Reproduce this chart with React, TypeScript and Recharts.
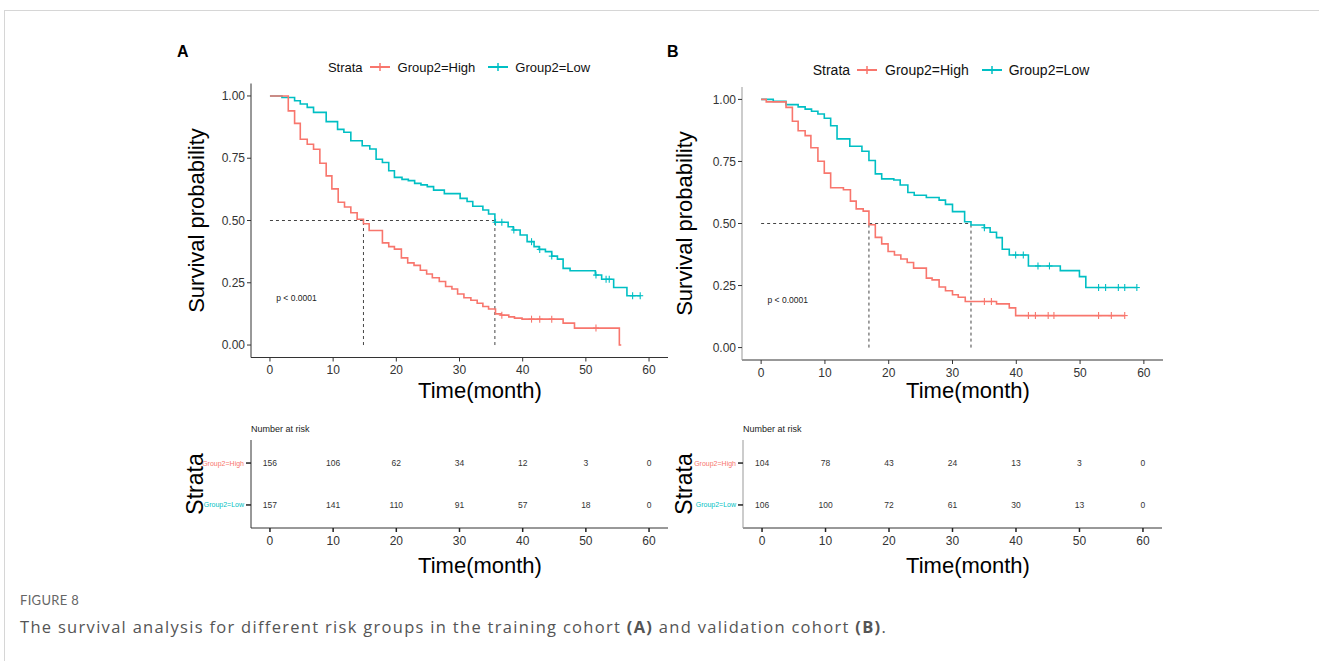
import React from "react";
import { ComposedChart, Line, Scatter, XAxis, YAxis, ReferenceLine } from "recharts";

const RED = "#F8766D";
const TEAL = "#00BFC4";
const FONT = "'Liberation Sans', Arial, sans-serif";

const months = [0, 10, 20, 30, 40, 50, 60];
const survTicks = [0, 0.25, 0.5, 0.75, 1];

// training cohort (A)
const highTimeA = [0, 2.9, 3.9, 4.8, 5.9, 6.9, 7.9, 8.9, 9.8, 10.8, 11.8, 12.8, 13.8, 14.8, 15.7, 17.8, 18.8, 19.7, 20.8, 21.8, 22.8, 23.8, 24.8, 25.7, 26.8, 27.8, 28.8, 29.7, 30.7, 31.8, 32.8, 33.7, 34.6, 35.7, 36.6, 37.8, 38.7, 39.9, 46.4, 48.2, 55.3, 55.6];
const highSurvA = [1, 0.94, 0.89, 0.826, 0.806, 0.786, 0.73, 0.679, 0.627, 0.573, 0.554, 0.531, 0.505, 0.487, 0.46, 0.41, 0.395, 0.385, 0.35, 0.33, 0.32, 0.3, 0.285, 0.27, 0.255, 0.235, 0.225, 0.205, 0.19, 0.18, 0.168, 0.155, 0.145, 0.125, 0.12, 0.113, 0.108, 0.104, 0.088, 0.068, 0, 0];
const lowTimeA = [0, 1.9, 3.9, 4.8, 5.9, 6.9, 8.9, 10.7, 11.7, 12.8, 14.6, 15.8, 16.8, 17.8, 18.8, 19.7, 20.9, 21.9, 22.9, 23.9, 24.9, 25.9, 27.6, 30.1, 31.2, 32.1, 33.7, 34.6, 35.6, 37.7, 38.5, 39.6, 40.7, 41.8, 42.6, 43.6, 44.6, 45.5, 46.4, 47.5, 51.5, 52.5, 54.4, 56.5, 58.6];
const lowSurvA = [1, 0.994, 0.981, 0.968, 0.954, 0.934, 0.897, 0.866, 0.854, 0.82, 0.8, 0.787, 0.746, 0.733, 0.7, 0.673, 0.665, 0.66, 0.649, 0.643, 0.636, 0.622, 0.608, 0.589, 0.576, 0.557, 0.542, 0.526, 0.493, 0.475, 0.462, 0.442, 0.415, 0.395, 0.384, 0.375, 0.357, 0.345, 0.308, 0.298, 0.281, 0.264, 0.231, 0.198, 0.198];
const highCensorA = [36.7, 41.4, 42.7, 44.6, 51.6];
const lowCensorA = [35.7, 36.7, 38.6, 41.4, 42.7, 44.6, 51.6, 53.2, 53.7, 57.4, 58.6];
const medianA = [14.8, 35.6];
const riskHighA = [156, 106, 62, 34, 12, 3, 0];
const riskLowA = [157, 141, 110, 91, 57, 18, 0];

// validation cohort (B)
const highTimeB = [0, 0.8, 3.9, 4.9, 5.8, 6.9, 7.8, 8.9, 9.9, 10.9, 12.9, 14.0, 14.9, 16.0, 16.9, 17.9, 18.9, 19.9, 20.9, 21.9, 22.9, 23.9, 25.9, 26.8, 27.9, 28.9, 30.0, 30.9, 32.0, 36.9, 38.9, 39.9, 57];
const highSurvB = [1, 0.99, 0.968, 0.912, 0.874, 0.854, 0.805, 0.751, 0.703, 0.644, 0.636, 0.59, 0.559, 0.55, 0.495, 0.444, 0.418, 0.387, 0.373, 0.357, 0.343, 0.32, 0.28, 0.273, 0.244, 0.229, 0.213, 0.203, 0.186, 0.176, 0.16, 0.129, 0.129];
const lowTimeB = [0, 1.9, 3.9, 5.8, 6.9, 7.9, 8.9, 9.9, 10.9, 11.9, 13.9, 15.8, 16.9, 17.9, 18.9, 20.8, 21.8, 23.0, 24.0, 25.9, 27.9, 28.9, 30.0, 31.9, 32.9, 35.0, 35.9, 36.9, 37.8, 38.9, 41.9, 46.9, 49.9, 50.9, 58.9];
const lowSurvB = [1, 0.992, 0.979, 0.97, 0.961, 0.952, 0.941, 0.924, 0.894, 0.841, 0.811, 0.791, 0.754, 0.7, 0.68, 0.675, 0.655, 0.625, 0.614, 0.605, 0.594, 0.577, 0.548, 0.507, 0.494, 0.483, 0.465, 0.443, 0.396, 0.373, 0.329, 0.31, 0.286, 0.242, 0.242];
const highCensorB = [35, 36.1, 41.9, 43, 45, 45.9, 52.9, 54.9, 57];
const lowCensorB = [35, 39.9, 41.1, 43.4, 45.2, 52.9, 54, 56, 57, 58.9];
const medianB = [16.9, 32.9];
const riskHighB = [104, 78, 43, 24, 13, 3, 0];
const riskLowB = [106, 100, 72, 61, 30, 13, 0];

const toCurve = (t: number[], s: number[]) => t.map((time, i) => ({ time, surv: s[i] }));

const censorPts = (times: number[], t: number[], s: number[]) =>
  times.map((c) => {
    let v = s[0];
    t.forEach((x, i) => {
      if (x <= c) v = s[i];
    });
    return { time: c, surv: v };
  });

const crossShape = (color: string) => (props: any) => {
  const { cx, cy } = props;
  return (
    <g stroke={color} strokeWidth={1.1}>
      <line x1={cx - 3} x2={cx + 3} y1={cy} y2={cy} />
      <line x1={cx} x2={cx} y1={cy - 3.5} y2={cy + 3.5} />
    </g>
  );
};

const vLabel = (text: string, x: number, size: number) => (props: any) => {
  const { viewBox } = props;
  const cy = viewBox.y + viewBox.height / 2;
  return (
    <text x={x} y={cy} transform={`rotate(-90 ${x} ${cy})`} textAnchor="middle" dominantBaseline="central" fontSize={size} fill="#000">
      {text}
    </text>
  );
};

const hLabel = (text: string, x: number, y: number, size: number) => () => (
  <text x={x} y={y} textAnchor="middle" dominantBaseline="central" fontSize={size} fill="#000">
    {text}
  </text>
);

const LegendKey = ({ color }: { color: string }) => (
  <svg width={20} height={12} style={{ display: "block" }}>
    <line x1={0} x2={20} y1={6} y2={6} stroke={color} strokeWidth={2} />
    <line x1={10} x2={10} y1={2} y2={10} stroke={color} strokeWidth={1.5} />
  </svg>
);

const StrataLegend = ({ cx, cy, size }: { cx: number; cy: number; size: number }) => (
  <div
    style={{
      position: "absolute",
      left: cx - 200,
      top: cy - 10,
      width: 400,
      height: 20,
      display: "flex",
      justifyContent: "center",
      alignItems: "center",
      fontSize: size,
      color: "#111",
      whiteSpace: "nowrap",
    }}
  >
    <span style={{ marginRight: 7 }}>Strata</span>
    <LegendKey color={RED} />
    <span style={{ marginLeft: 8, marginRight: 13 }}>Group2=High</span>
    <LegendKey color={TEAL} />
    <span style={{ marginLeft: 7 }}>Group2=Low</span>
  </div>
);

interface PanelProps {
  left: number;
  plotLeft: number;
  plotRight: number;
  plotTop: number;
  plotBottom: number;
  highT: number[];
  highS: number[];
  lowT: number[];
  lowS: number[];
  highC: number[];
  lowC: number[];
  median: number[];
  yAxisColor: string;
  labelX: number;
}

const SurvivalPlot = (p: PanelProps) => {
  const top = 40;
  const width = 530;
  const height = 370;
  const axis = "#333";
  const pval = [{ time: 1, surv: 0.19 }];
  return (
    <div style={{ position: "absolute", left: p.left, top }}>
      <ComposedChart
        width={width}
        height={height}
        margin={{ top: p.plotTop - top, right: p.left + width - p.plotRight, bottom: 0, left: 0 }}
      >
        <XAxis
          type="number"
          dataKey="time"
          domain={[-3, 63]}
          ticks={months}
          height={top + height - p.plotBottom}
          tickSize={4}
          tickMargin={4}
          axisLine={{ stroke: axis }}
          tickLine={{ stroke: axis }}
          tick={{ fontSize: 12, fill: "#333" }}
          label={hLabel("Time(month)", p.labelX - p.left, 350, 22)}
        />
        <YAxis
          type="number"
          dataKey="surv"
          domain={[-0.05, 1.05]}
          ticks={survTicks}
          tickFormatter={(v: number) => v.toFixed(2)}
          width={p.plotLeft - p.left}
          tickSize={4}
          tickMargin={2}
          axisLine={{ stroke: p.yAxisColor }}
          tickLine={{ stroke: axis }}
          tick={{ fontSize: 12, fill: "#333" }}
          label={vLabel("Survival probability", p.left === 160 ? 36 : 32, 22)}
        />
        <ReferenceLine segment={[{ x: 0, y: 0.5 }, { x: p.median[1], y: 0.5 }]} stroke="#444" strokeDasharray="3 3" />
        <ReferenceLine segment={[{ x: p.median[0], y: 0 }, { x: p.median[0], y: 0.5 }]} stroke="#444" strokeDasharray="3 3" />
        <ReferenceLine segment={[{ x: p.median[1], y: 0 }, { x: p.median[1], y: 0.5 }]} stroke="#444" strokeDasharray="3 3" />
        <Line
          data={toCurve(p.lowT, p.lowS)}
          dataKey="surv"
          type="stepAfter"
          stroke={TEAL}
          strokeWidth={1.6}
          dot={false}
          isAnimationActive={false}
        />
        <Line
          data={toCurve(p.highT, p.highS)}
          dataKey="surv"
          type="stepAfter"
          stroke={RED}
          strokeWidth={1.6}
          dot={false}
          isAnimationActive={false}
        />
        <Scatter data={censorPts(p.lowC, p.lowT, p.lowS)} dataKey="surv" shape={crossShape(TEAL)} isAnimationActive={false} />
        <Scatter data={censorPts(p.highC, p.highT, p.highS)} dataKey="surv" shape={crossShape(RED)} isAnimationActive={false} />
        <Scatter
          data={pval}
          dataKey="surv"
          isAnimationActive={false}
          shape={(s: any) => (
            <text x={s.cx} y={s.cy} dominantBaseline="central" fontSize={8.5} fill="#222">
              p &lt; 0.0001
            </text>
          )}
        />
      </ComposedChart>
    </div>
  );
};

interface RiskProps {
  left: number;
  plotLeft: number;
  plotRight: number;
  high: number[];
  low: number[];
  yAxisColor: string;
  labelX: number;
}

const StrataTick = (props: any) => {
  const { x, y, payload } = props;
  const high = payload.value === 2;
  return (
    <text x={x} y={y} textAnchor="end" dominantBaseline="central" fontSize={7} fill={high ? RED : TEAL}>
      {high ? "Group2=High" : "Group2=Low"}
    </text>
  );
};

const riskText = (props: any) => (
  <text x={props.cx} y={props.cy} textAnchor="middle" dominantBaseline="central" fontSize={8.5} fill="#333">
    {props.payload.n}
  </text>
);

const RiskTable = (p: RiskProps) => {
  const top = 420;
  const width = 530;
  const height = 165;
  const rows = [
    ...months.map((m, i) => ({ time: m, row: 2, n: p.high[i] })),
    ...months.map((m, i) => ({ time: m, row: 1, n: p.low[i] })),
  ];
  return (
    <div style={{ position: "absolute", left: p.left, top }}>
      <div style={{ position: "absolute", left: p.plotLeft - p.left, top: 4, fontSize: 9, color: "#222", whiteSpace: "nowrap" }}>
        Number at risk
      </div>
      <ComposedChart
        width={width}
        height={height}
        margin={{ top: 20, right: p.left + width - p.plotRight, bottom: 0, left: 0 }}
      >
        <XAxis
          type="number"
          dataKey="time"
          domain={[-3, 63]}
          ticks={months}
          height={57}
          tickSize={4}
          tickMargin={4}
          axisLine={{ stroke: "#333" }}
          tickLine={{ stroke: "#222", strokeWidth: 1.5 }}
          tick={{ fontSize: 12, fill: "#333" }}
          label={hLabel("Time(month)", p.labelX - p.left, 145, 22)}
        />
        <YAxis
          type="number"
          dataKey="row"
          domain={[0.45, 2.55]}
          ticks={[1, 2]}
          width={p.plotLeft - p.left}
          tickSize={5}
          tickMargin={2}
          axisLine={{ stroke: p.yAxisColor }}
          tickLine={{ stroke: "#222", strokeWidth: 1.5 }}
          tick={<StrataTick />}
          label={vLabel("Strata", p.left === 160 ? 35 : 32, 23)}
        />
        <Scatter data={rows} dataKey="row" shape={riskText} isAnimationActive={false} />
      </ComposedChart>
    </div>
  );
};

export default function App() {
  return (
    <div style={{ position: "absolute", left: 0, top: 0, width: 1319, height: 661, background: "#fff", fontFamily: FONT, overflow: "hidden" }}>
      <div style={{ position: "absolute", left: 4, top: 10, width: 1315, height: 651, borderTop: "1px solid #d6d6d6", borderLeft: "1px solid #d6d6d6" }} />
      <div style={{ position: "absolute", left: 177, top: 43, fontSize: 16, fontWeight: "bold" }}>A</div>
      <div style={{ position: "absolute", left: 667, top: 43, fontSize: 16, fontWeight: "bold" }}>B</div>
      <StrataLegend cx={459} cy={67} size={13} />
      <StrataLegend cx={951} cy={70} size={14} />
      <SurvivalPlot
        left={160}
        plotLeft={251}
        plotRight={668}
        plotTop={83.5}
        plotBottom={357.5}
        highT={highTimeA}
        highS={highSurvA}
        lowT={lowTimeA}
        lowS={lowSurvA}
        highC={highCensorA}
        lowC={lowCensorA}
        median={medianA}
        yAxisColor="#333"
        labelX={480}
      />
      <SurvivalPlot
        left={652}
        plotLeft={742}
        plotRight={1163}
        plotTop={87}
        plotBottom={360}
        highT={highTimeB}
        highS={highSurvB}
        lowT={lowTimeB}
        lowS={lowSurvB}
        highC={highCensorB}
        lowC={lowCensorB}
        median={medianB}
        yAxisColor="#999"
        labelX={968}
      />
      <RiskTable left={160} plotLeft={251} plotRight={668} high={riskHighA} low={riskLowA} yAxisColor="#333" labelX={480} />
      <RiskTable left={652} plotLeft={743} plotRight={1162} high={riskHighB} low={riskLowB} yAxisColor="#999" labelX={968} />
      <div style={{ position: "absolute", left: 20, top: 592, fontSize: 13, color: "#666", fontFamily: "Lato, 'Open Sans', sans-serif", letterSpacing: 0.3 }}>
        FIGURE 8
      </div>
      <div style={{ position: "absolute", left: 20, top: 615, fontSize: 16.5, color: "#555", fontFamily: "'Open Sans', Lato, sans-serif", whiteSpace: "nowrap", letterSpacing: 1.3 }}>
        The survival analysis for different risk groups in the training cohort <b>(A)</b> and validation cohort <b>(B)</b>.
      </div>
    </div>
  );
}
